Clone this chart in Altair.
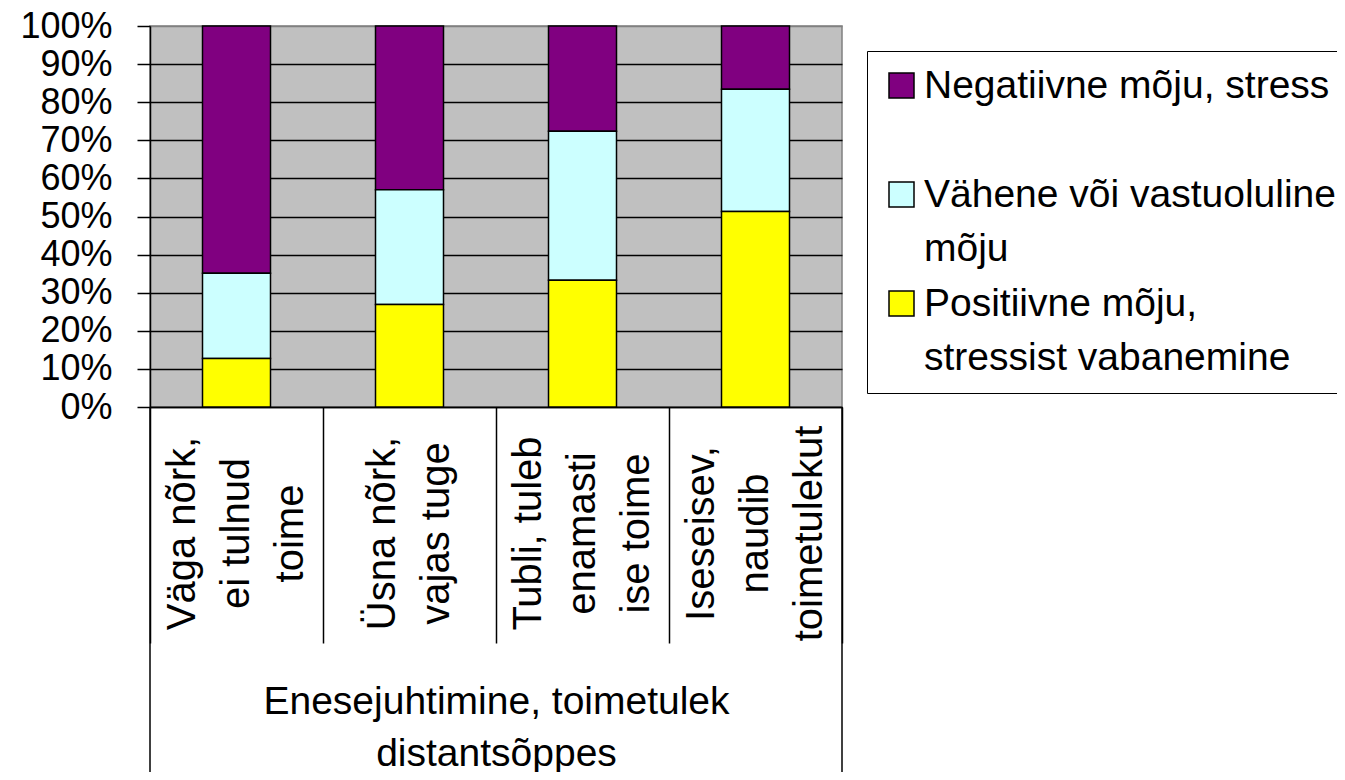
import json
import altair as alt
import pandas as pd

# ---- data ----
categories = [
    "Väga nõrk, ei tulnud toime",
    "Üsna nõrk, vajas tuge",
    "Tubli, tuleb enamasti ise toime",
    "Iseseisev, naudib toimetulekut",
]
category_lines = [
    ["Väga nõrk,", "ei tulnud", "toime"],
    ["Üsna nõrk,", "vajas tuge"],
    ["Tubli, tuleb", "enamasti", "ise toime"],
    ["Iseseisev,", "naudib", "toimetulekut"],
]
series = [
    "Negatiivne mõju, stress",
    "Vähene või vastuoluline mõju",
    "Positiivne mõju, stressist vabanemine",
]
series_lines = [
    ["Negatiivne mõju, stress"],
    ["Vähene või vastuoluline", "mõju"],
    ["Positiivne mõju,", "stressist vabanemine"],
]
negatiivne = [64.9, 43.0, 27.6, 16.6]
vahene = [22.4, 30.1, 39.1, 32.1]
positiivne = [12.7, 26.9, 33.3, 51.3]
y_ticks = [0, 10, 20, 30, 40, 50, 60, 70, 80, 90, 100]
series_colors = ["#800080", "#CCFFFF", "#FFFF00"]
axis_title = ["Enesejuhtimine, toimetulek", "distantsõppes"]

# ---- table ----
values_by_series = [negatiivne, vahene, positiivne]
stack_rank = [2, 1, 0]  # positive at the bottom, negative on top
rows = []
for s_i, s in enumerate(series):
    for c_i, c in enumerate(categories):
        rows.append({"kategooria": c, "seeria": s,
                     "vaartus": values_by_series[s_i][c_i],
                     "jarjekord": stack_rank[s_i]})
df = pd.DataFrame(rows)


def lines_expr(names, lines):
    expr = json.dumps([""], ensure_ascii=False)
    for n, l in reversed(list(zip(names, lines))):
        expr = (f"datum.label == {json.dumps(n, ensure_ascii=False)} ? "
                f"{json.dumps(l, ensure_ascii=False)} : ({expr})")
    return expr


SPACER = "\u200b"


def centred_lines(lines, max_lines=3):
    # half-height spacer lines so every label block is centred on its band
    out = [SPACER] * (max_lines - len(lines))
    for i, l in enumerate(lines):
        if i:
            out.append(SPACER)
        out.append(l)
    return out


FONT = "Liberation Sans"
LH = 54

x_axis = alt.Axis(
    title=axis_title,
    labelExpr=lines_expr(categories, [centred_lines(l) for l in category_lines]),
    labelAngle=270,
    labelAlign="center",
    labelBaseline="middle",
    labelPadding=-110,
    labelOffset=-LH,
    labelFontSize=40,
    labelLineHeight=LH / 2,
    labelLimit=1000,
    labelColor="black",
    labelOverlap=False,
    tickBand="extent",
    tickSize=236,
    tickColor="black",
    tickWidth=1.5,
    domainColor="black",
    domainWidth=1.5,
    titleFontSize=39,
    titleFontWeight="normal",
    titleLineHeight=52,
    titleBaseline="alphabetic",
    titleY=306,
    titleColor="black",
    grid=False,
)

bars = alt.Chart(df).mark_bar(size=68, stroke="black", strokeWidth=1.5).encode(
    x=alt.X(
        "kategooria:N",
        sort=categories,
        scale=alt.Scale(paddingInner=0, paddingOuter=0),
        axis=x_axis,
    ),
    y=alt.Y(
        "vaartus:Q",
        stack="zero",
        scale=alt.Scale(domain=[0, 100], nice=False),
        axis=alt.Axis(
            values=y_ticks,
            labelExpr="datum.value + '%'",
            title=None,
            labelFontSize=36,
            labelPadding=25,
            labelColor="black",
            tickSize=13,
            tickColor="black",
            tickWidth=1.5,
            domainColor="black",
            domainWidth=1.5,
            gridColor=alt.condition("datum.value == 100", alt.value("#808080"), alt.value("black")),
            gridWidth=1.5,
        ),
    ),
    color=alt.Color(
        "seeria:N",
        scale=alt.Scale(domain=series, range=series_colors),
        legend=alt.Legend(
            orient="none",
            legendX=717,
            legendY=25,
            title=None,
            padding=15,
            strokeColor="black",
            fillColor="white",
            symbolType="square",
            symbolSize=625,
            symbolStrokeColor="black",
            symbolStrokeWidth=1.5,
            labelFontSize=39,
            labelLimit=1000,
            labelOffset=3,
            labelColor="black",
            labelExpr=lines_expr(series, series_lines),
            rowPadding=15,
            gridAlign="all",
        ),
    ),
    order=alt.Order("jarjekord:Q", sort="ascending"),
)

edge_df = pd.DataFrame({"kategooria": [categories[0], categories[-1]], "pos": [0, 1]})
left_edge = alt.Chart(edge_df).transform_filter("datum.pos == 0").mark_rule(
    color="black", strokeWidth=1.5).encode(
    x=alt.X("kategooria:N", sort=categories, bandPosition=0, axis=x_axis),
    y=alt.value(381), y2=alt.value(770))
right_edge = alt.Chart(edge_df).transform_filter("datum.pos == 1").mark_rule(
    color="black", strokeWidth=1.5).encode(
    x=alt.X("kategooria:N", sort=categories, bandPosition=1, axis=x_axis),
    y=alt.value(381), y2=alt.value(770))

chart = alt.layer(bars, left_edge, right_edge).properties(
    width=692,
    height=381,
    autosize=alt.AutoSizeParams(type="none"),
    padding={"left": 142, "top": 18, "right": 495, "bottom": 365},
).configure(
    font=FONT,
    style={"guide-label": {"lineHeight": LH}},
).configure_view(fill="#C0C0C0", stroke="#808080", strokeWidth=1.5)

chart.save("out.html", embed_options={"renderer": "svg", "actions": False})
